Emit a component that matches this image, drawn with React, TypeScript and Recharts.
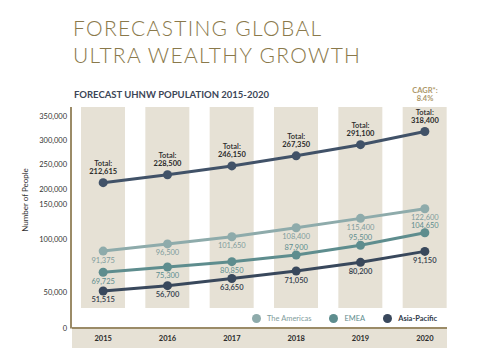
import React from "react";
import { ComposedChart, Line, Bar, XAxis, YAxis, LabelList } from "recharts";

/* Forecast UHNW population 2015-2020, by region */

const YEARS = ['2015', '2016', '2017', '2018', '2019', '2020'];
const TOTAL = [212615, 228500, 246150, 267350, 291100, 318400];
const AMERICAS = [91375, 96500, 101650, 108400, 115400, 122600];
const EMEA = [69725, 75300, 80850, 87900, 95500, 104650];
const ASIA_PACIFIC = [51515, 56700, 63650, 71050, 80200, 91150];
const Y_TICKS = [0, 50000, 100000, 150000, 200000, 250000, 300000, 350000];
const EMEA_LABEL_ABOVE = ['2018', '2019', '2020'];

// the printed axis is broken (not linear): piecewise scale, value knots -> plot units (px above the baseline)
const KNOT_VALUES = [0, 50000, 70000, 90000, 100000, 125000, 150000, 200000, 250000, 300000, 350000];
const KNOT_UNITS = [0, 36, 56.5, 75.5, 89.5, 123, 124.5, 139.5, 164.5, 188, 212.5];
const PLOT_TOP = 221.5;
const BAND = [20.5, 221.5];

const GOLD = '#8a794b';
const TAN = '#9b8b67';
const BEIGE = '#e6e1d5';
const C_TOTAL = '#415268';
const C_AM = '#8eabab';
const C_EMEA = '#5e8d8e';
const C_AP = '#39485c';

function toUnit(v: number) {
  for (let i = 0; i < KNOT_VALUES.length - 1; i++) {
    if (v <= KNOT_VALUES[i + 1]) {
      const t = (v - KNOT_VALUES[i]) / (KNOT_VALUES[i + 1] - KNOT_VALUES[i]);
      return KNOT_UNITS[i] + t * (KNOT_UNITS[i + 1] - KNOT_UNITS[i]);
    }
  }
  return KNOT_UNITS[KNOT_UNITS.length - 1];
}

const fmt = (v: number) => v.toLocaleString('en-US');

const data = YEARS.map((year, i) => ({
  year,
  total: TOTAL[i], americas: AMERICAS[i], emea: EMEA[i], apac: ASIA_PACIFIC[i],
  tU: toUnit(TOTAL[i]), aU: toUnit(AMERICAS[i]), eU: toUnit(EMEA[i]), pU: toUnit(ASIA_PACIFIC[i]),
}));

const FONT = 'Lato, "Open Sans", sans-serif';

const valueLabel = (color: string, weight: number, above?: (i: number) => boolean) => (p: any) => {
  const x = p.x ?? p.viewBox?.x;
  const y = p.y ?? p.viewBox?.y;
  const up = above ? above(p.index) : false;
  return (
    <text x={x} y={up ? y - 7.5 : y + 9} textAnchor="middle" dominantBaseline="central"
      fontSize={7.5} fontWeight={weight} fill={color} fontFamily={FONT}>
      {fmt(p.value)}
    </text>
  );
};

const totalLabel = (p: any) => {
  const x = p.x ?? p.viewBox?.x;
  const y = p.y ?? p.viewBox?.y;
  return (
    <g fontFamily={FONT} fontSize={7.5} fill="#2b2b2b" textAnchor="middle">
      <text x={x} y={y - 19} dominantBaseline="central" fontWeight={600}>Total:</text>
      <text x={x} y={y - 11} dominantBaseline="central" fontWeight={700}>{fmt(p.value)}</text>
    </g>
  );
};

const LEGEND = [
  { name: 'The Americas', color: C_AM, text: '#7f9c9c', weight: 400 },
  { name: 'EMEA', color: C_EMEA, text: '#5e8d8e', weight: 400 },
  { name: 'Asia-Pacific', color: C_AP, text: '#2f3a4a', weight: 700 },
];

export default function App() {
  return (
    <div style={{ position: 'absolute', left: 0, top: 0, width: 478, height: 355, background: '#fff', fontFamily: FONT, overflow: 'hidden' }}>
      <div style={{ position: 'absolute', left: 73, top: 14, fontSize: 21, lineHeight: '27px', fontWeight: 300, color: GOLD, letterSpacing: 1.3, whiteSpace: 'nowrap' }}>
        FORECASTING GLOBAL<br />ULTRA WEALTHY GROWTH
      </div>
      <div style={{ position: 'absolute', left: 74, top: 89.5, fontSize: 9.5, lineHeight: 1, fontWeight: 700, color: '#3c4657', whiteSpace: 'nowrap' }}>
        FORECAST UHNW POPULATION 2015-2020
      </div>
      <div style={{ position: 'absolute', left: 395, width: 60, top: 87, fontSize: 7.5, lineHeight: '8px', fontWeight: 700, color: '#ad976a', textAlign: 'center' }}>
        CAGR*:<br />8.4%
      </div>
      <div style={{ position: 'absolute', left: 25, top: 200, transform: 'translate(-50%, -50%) rotate(-90deg)', fontSize: 8, color: '#333', whiteSpace: 'nowrap' }}>
        Number of People
      </div>
      <div style={{ position: 'absolute', left: 72, top: 327, width: 375, height: 21, background: BEIGE, borderTop: `2px solid ${TAN}`, boxSizing: 'border-box' }} />

      <div style={{ position: 'absolute', left: 0, top: 0 }}>
        <ComposedChart width={478} height={355} data={data} margin={{ top: 107, right: 21, bottom: 6.5, left: 8 }}>
          <XAxis dataKey="year" height={20} axisLine={false} tickLine={false} tickSize={0} tickMargin={7}
            tick={{ fontSize: 7.5, fontWeight: 700, fill: '#2b2b2b', fontFamily: FONT }} interval={0} />
          <YAxis type="number" domain={[0, PLOT_TOP]} ticks={Y_TICKS.map(toUnit)} interval={0} width={63}
            tickFormatter={(_v: number, i: number) => fmt(Y_TICKS[i])}
            axisLine={{ stroke: TAN, strokeWidth: 2 }} tickLine={false} tickSize={0} tickMargin={4}
            tick={{ fontSize: 7.5, fill: '#333', fontFamily: FONT }} />
          <Bar dataKey={() => BAND} fill={BEIGE} barSize={44} isAnimationActive={false} />
          <Line dataKey="tU" stroke={C_TOTAL} strokeWidth={3} dot={{ r: 4.5, fill: C_TOTAL, stroke: C_TOTAL, strokeWidth: 0 }} isAnimationActive={false}>
            <LabelList dataKey="total" content={totalLabel} />
          </Line>
          <Line dataKey="aU" stroke={C_AM} strokeWidth={3} dot={{ r: 4.5, fill: C_AM, stroke: C_AM, strokeWidth: 0 }} isAnimationActive={false}>
            <LabelList dataKey="americas" content={valueLabel('#7f9c9c', 400)} />
          </Line>
          <Line dataKey="eU" stroke={C_EMEA} strokeWidth={3} dot={{ r: 4.5, fill: C_EMEA, stroke: C_EMEA, strokeWidth: 0 }} isAnimationActive={false}>
            <LabelList dataKey="emea" content={valueLabel('#5e8d8e', 400, i => EMEA_LABEL_ABOVE.includes(YEARS[i]))} />
          </Line>
          <Line dataKey="pU" stroke={C_AP} strokeWidth={3} dot={{ r: 4.5, fill: C_AP, stroke: C_AP, strokeWidth: 0 }} isAnimationActive={false}>
            <LabelList dataKey="apac" content={valueLabel('#2f3a4a', 600)} />
          </Line>
        </ComposedChart>
      </div>

      <div style={{ position: 'absolute', left: 252, top: 312, display: 'flex', alignItems: 'center', fontSize: 7.5, height: 12 }}>
        {LEGEND.map(l => (
          <div key={l.name} style={{ display: 'flex', alignItems: 'center', marginRight: 18 }}>
            <span style={{ width: 9, height: 9, borderRadius: '50%', background: l.color, marginRight: 6 }} />
            <span style={{ color: l.text, fontWeight: l.weight }}>{l.name}</span>
          </div>
        ))}
      </div>
    </div>
  );
}
